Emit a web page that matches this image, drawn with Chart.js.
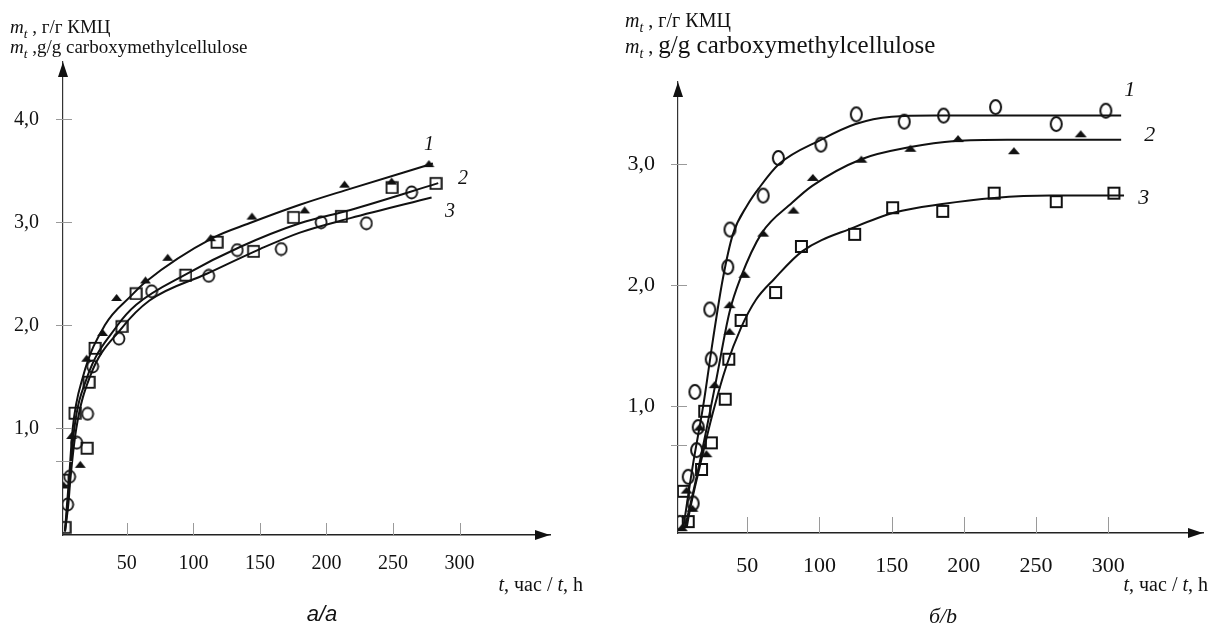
<!DOCTYPE html>
<html>
<head>
<meta charset="utf-8">
<script src="https://cdn.jsdelivr.net/npm/chart.js@4.4.0/dist/chart.umd.min.js"></script>
<style>
  body { margin: 0; width: 1210px; height: 626px; background: #fff; position: relative; overflow: hidden;
         font-family: "Liberation Serif", "Times New Roman", serif; color: #111; }
  .box { position: absolute; top: 0; height: 626px; }
  #boxA { left: 0; width: 600px; }
  #boxB { left: 600px; width: 610px; }
  .txt { position: absolute; white-space: nowrap; }
  .sub { font-size: 0.7em; position: relative; top: 0.35em; }
</style>
</head>
<body>
<div class="box" id="boxA"><canvas id="chartA" width="600" height="626"></canvas></div>
<div class="box" id="boxB"><canvas id="chartB" width="610" height="626"></canvas></div>

<!-- y axis titles -->
<div class="txt" style="left:10px;top:17px;font-size:19px;line-height:19px"><i>m<span class="sub">t</span></i> , г/г КМЦ</div>
<div class="txt" style="left:10px;top:37px;font-size:19px;line-height:19px"><i>m<span class="sub">t</span></i> ,g/g carboxymethylcellulose</div>
<div class="txt" style="left:625px;top:10px;font-size:20px;line-height:20px"><i>m<span class="sub">t</span></i> , г/г КМЦ</div>
<div class="txt" style="left:625px;top:32px;font-size:20px;line-height:25px"><i>m<span class="sub">t</span></i> , <span style="font-size:25px">g/g carboxymethylcellulose</span></div>

<!-- x axis titles -->
<div class="txt" style="right:627px;top:574px;font-size:20px;line-height:20px"><i>t</i>, час / <i>t</i>, h</div>
<div class="txt" style="right:2px;top:574px;font-size:20px;line-height:20px"><i>t</i>, час / <i>t</i>, h</div>

<!-- captions -->
<div class="txt" style="left:272px;width:100px;text-align:center;top:603px;font:italic 22px 'Liberation Sans',Arial,sans-serif;line-height:22px">а/a</div>
<div class="txt" style="left:893px;width:100px;text-align:center;top:605px;font-size:22px;line-height:22px"><i>б/b</i></div>

<script>
/* ---------------- DATA: panel a (left) ---------------- */
const aXTicks = [50, 100, 150, 200, 250, 300];
const aYTicks = [0.68, 1, 2, 3, 4];
const aYLabels = ['', '1,0', '2,0', '3,0', '4,0'];

// fitted curves [t, m]
const aCurve1 = [[3.5,0],[5,0.26],[6.5,0.5],[9.3,1.0],[17,1.5],[33.4,2.0],[53.5,2.29],[64,2.42],[115,2.85],[142,2.99],[180,3.17],[214,3.31],[280,3.57]];
const aCurve2 = [[3.5,0],[5.5,0.26],[7,0.5],[10.5,1.0],[19.7,1.48],[43,2.0],[57,2.2],[95,2.5],[135,2.76],[180,2.99],[218,3.12],[284,3.38]];
const aCurve3 = [[3.5,0],[6,0.26],[7.5,0.5],[12,1.0],[22.2,1.5],[46,1.97],[67,2.24],[110,2.5],[150,2.74],[180,2.9],[218,3.04],[279,3.24]];

// experimental points
const aTriangles = [[2.5,0.45],[8.5,0.93],[15,0.65],[19.8,1.68],[31.8,1.93],[42.3,2.27],[64,2.44],[80.7,2.66],[113,2.85],[144,3.06],[183.6,3.12],[213.6,3.37],[249,3.4],[277,3.57]];
const aSquares = [[3.2,0.04],[1.7,0.5],[10.7,1.15],[19.8,0.81],[21.3,1.45],[25.8,1.78],[46,1.99],[56.6,2.31],[94,2.49],[117.5,2.81],[145,2.72],[175,3.05],[211,3.06],[249,3.34],[282,3.38]];
const aCircles = [[5.5,0.26],[7,0.53],[12.3,0.86],[20.5,1.14],[24.3,1.6],[44,1.87],[68.6,2.33],[111.5,2.48],[133,2.73],[166,2.74],[196,3.0],[230,2.99],[264,3.29]];

const aCurveLabels = [[277,3.75,'1'],[302.6,3.42,'2'],[292.8,3.10,'3']];

/* ---------------- DATA: panel b (right) ---------------- */
const bXTicks = [50, 100, 150, 200, 250, 300];
const bYTicks = [0.68, 1, 2, 3];
const bYLabels = ['', '1,0', '2,0', '3,0'];

const bCurve1 = [[5.7,0],[12.5,0.53],[19.4,1.0],[26.2,1.55],[33,2.05],[40,2.42],[50,2.66],[58,2.8],[72,3.0],[101,3.2],[125,3.33],[150,3.39],[180,3.4],[309,3.4]];
const bCurve2 = [[6.8,0],[14.9,0.42],[21.7,0.81],[28.5,1.22],[37.7,1.78],[45,2.05],[60,2.43],[81,2.68],[95,2.82],[129,3.04],[163,3.14],[194,3.19],[230,3.2],[309,3.2]];
const bCurve3 = [[8,0],[10.3,0.15],[17,0.5],[26.2,0.95],[35.4,1.33],[45.7,1.65],[56,1.88],[68.5,2.05],[88,2.28],[124.4,2.48],[152,2.6],[185,2.67],[221,2.72],[260,2.74],[311,2.74]];

const bCircles = [[3.4,0.04],[12.5,0.2],[9.1,0.42],[14.9,0.64],[16,0.83],[13.7,1.12],[25,1.39],[24,1.8],[36.5,2.15],[38,2.46],[61,2.74],[71.5,3.05],[101,3.16],[125.5,3.41],[158.7,3.35],[186,3.4],[222,3.47],[264,3.33],[298.4,3.44]];
const bTriangles = [[4.6,0],[8,0.31],[12,0.16],[17,0.83],[21.7,0.61],[27.4,1.18],[37.7,1.62],[37.7,1.84],[48,2.09],[61,2.43],[82,2.62],[95.4,2.89],[129,3.04],[163,3.13],[196,3.21],[234.7,3.11],[281,3.25]];
const bSquares = [[9.1,0.05],[5.7,0.3],[18.3,0.48],[25.1,0.7],[20.5,0.96],[34.7,1.06],[37.2,1.39],[45.7,1.71],[69.6,1.94],[87.5,2.32],[124.4,2.42],[150.7,2.64],[185.4,2.61],[221,2.76],[264,2.69],[304,2.76]];

const bCurveLabels = [[315,3.61,'1'],[328.8,3.24,'2'],[324.7,2.72,'3']];

/* ---------------- marker sprites ---------------- */
function ring(w, h, lw) {
    const c = document.createElement('canvas');
    c.width = w + lw * 2; c.height = h + lw * 2;
    const g = c.getContext('2d');
    g.lineWidth = lw; g.strokeStyle = '#111';
    g.beginPath(); g.ellipse(c.width / 2, c.height / 2, w / 2, h / 2, 0, 0, Math.PI * 2); g.stroke();
    return c;
}
function box(s, lw) {
    const c = document.createElement('canvas');
    c.width = s + lw * 2; c.height = s + lw * 2;
    const g = c.getContext('2d');
    g.lineWidth = lw; g.strokeStyle = '#111';
    g.strokeRect(lw, lw, s, s);
    return c;
}
function tri(w, h) {
    const c = document.createElement('canvas');
    c.width = w + 2; c.height = h + 2;
    const g = c.getContext('2d');
    g.fillStyle = '#111';
    g.beginPath(); g.moveTo(1, h + 1); g.lineTo(w / 2 + 1, 1); g.lineTo(w + 1, h + 1); g.closePath(); g.fill();
    return c;
}

const toPts = arr => arr.map(p => ({ x: p[0], y: p[1] }));

/* ---------------- axes decoration: inner ticks, arrows, curve numbers ---------------- */
const decoPlugin = {
    id: 'deco',
    afterDraw(chart) {
        const o = chart.options.plugins.deco;
        const ctx = chart.ctx, a = chart.chartArea;
        const xs = chart.scales.x, ys = chart.scales.y;
        ctx.save();
        ctx.strokeStyle = '#9a9a9a';
        ctx.lineWidth = 1;
        o.xTicks.forEach(v => {
            const px = Math.round(xs.getPixelForValue(v)) + 0.5;
            ctx.beginPath(); ctx.moveTo(px, a.bottom); ctx.lineTo(px, a.bottom - o.tickH); ctx.stroke();
        });
        o.yTicks.forEach(v => {
            const py = Math.round(ys.getPixelForValue(v)) + 0.5;
            ctx.beginPath(); ctx.moveTo(a.left - 7, py); ctx.lineTo(a.left + 9, py); ctx.stroke();
        });
        // arrows
        ctx.fillStyle = '#111';
        ctx.beginPath();
        ctx.moveTo(a.right, a.bottom); ctx.lineTo(a.right - 15, a.bottom - 5); ctx.lineTo(a.right - 15, a.bottom + 5); ctx.closePath();
        ctx.fill();
        ctx.beginPath();
        ctx.moveTo(a.left, a.top); ctx.lineTo(a.left - 5, a.top + 15); ctx.lineTo(a.left + 5, a.top + 15); ctx.closePath();
        ctx.fill();
        // curve numbers
        ctx.font = 'italic ' + o.labelSize + 'px "Liberation Serif", serif';
        ctx.textAlign = 'center';
        ctx.textBaseline = 'middle';
        o.labels.forEach(l => ctx.fillText(l[2], xs.getPixelForValue(l[0]), ys.getPixelForValue(l[1])));
        ctx.restore();
    }
};

function makeChart(id, cfg) {
    const curveDs = c => ({ type: 'scatter', data: toPts(c), showLine: true, borderColor: '#111', borderWidth: 2,
                            pointRadius: 0, cubicInterpolationMode: 'monotone', fill: false });
    const markDs = (d, img) => ({ type: 'scatter', data: toPts(d), showLine: false, pointStyle: img,
                                  pointRadius: 6, borderColor: '#111', backgroundColor: '#111' });
    return new Chart(document.getElementById(id), {
        type: 'scatter',
        data: {
            datasets: [
                curveDs(cfg.curves[0]), curveDs(cfg.curves[1]), curveDs(cfg.curves[2]),
                markDs(cfg.circles, cfg.circleImg), markDs(cfg.triangles, cfg.triImg), markDs(cfg.squares, cfg.boxImg)
            ]
        },
        options: {
            responsive: false,
            animation: false,
            layout: { padding: { top: cfg.top, right: cfg.right, left: 0, bottom: 0 } },
            plugins: {
                legend: { display: false },
                tooltip: { enabled: false },
                deco: { xTicks: cfg.xTicks, yTicks: cfg.yTicks, tickH: cfg.tickH, labels: cfg.labels, labelSize: cfg.labelSize }
            },
            scales: {
                x: {
                    type: 'linear', min: cfg.xMin, max: cfg.xMax,
                    grid: { display: false },
                    border: { display: true, color: '#222', width: 1.5 },
                    afterBuildTicks: s => { s.ticks = cfg.xTicks.map(v => ({ value: v })); },
                    afterFit: s => { s.height = cfg.xH; },
                    ticks: { autoSkip: false, maxRotation: 0, padding: cfg.xPad, color: '#111',
                             font: { family: '"Liberation Serif", serif', size: cfg.fontSize },
                             callback: v => String(v) }
                },
                y: {
                    type: 'linear', min: cfg.yMin, max: cfg.yMax,
                    grid: { display: false },
                    border: { display: true, color: '#333', width: 1.2 },
                    afterBuildTicks: s => { s.ticks = cfg.yTicks.map(v => ({ value: v })); },
                    afterFit: s => { s.width = cfg.yW; },
                    ticks: { autoSkip: false, padding: cfg.yPad, color: '#111',
                             font: { family: '"Liberation Serif", serif', size: cfg.fontSize },
                             callback: (v, i) => cfg.yLabels[i] }
                }
            }
        },
        plugins: [decoPlugin]
    });
}

makeChart('chartA', {
    curves: [aCurve1, aCurve2, aCurve3],
    circles: aCircles, triangles: aTriangles, squares: aSquares,
    circleImg: ring(11, 12, 1.8), triImg: tri(11, 7), boxImg: box(11, 1.8),
    xTicks: aXTicks, yTicks: aYTicks, yLabels: aYLabels, labels: aCurveLabels,
    xMin: 2, xMax: 368, yMin: -0.036, yMax: 4.556,
    top: 62, right: 50, xH: 91, yW: 63, xPad: 9, yPad: 16, tickH: 12, fontSize: 20, labelSize: 20
});

makeChart('chartB', {
    curves: [bCurve1, bCurve2, bCurve3],
    circles: bCircles, triangles: bTriangles, squares: bSquares,
    circleImg: ring(11, 14, 2), triImg: tri(12, 7), boxImg: box(11, 2),
    xTicks: bXTicks, yTicks: bYTicks, yLabels: bYLabels, labels: bCurveLabels,
    xMin: 2, xMax: 365.7, yMin: -0.044, yMax: 3.677,
    top: 82, right: 1, xH: 93, yW: 78, xPad: 12, yPad: 15, tickH: 16, fontSize: 22, labelSize: 22
});
</script>
</body>
</html>
